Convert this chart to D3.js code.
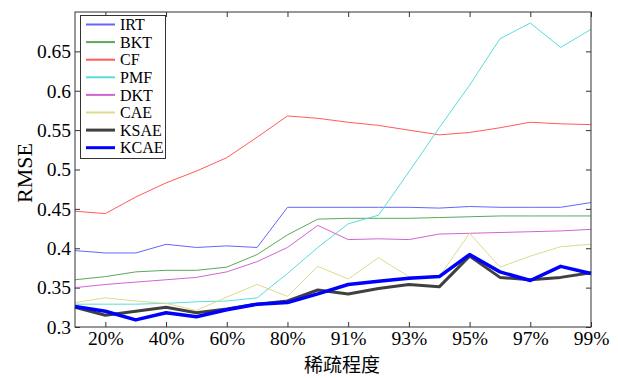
<!DOCTYPE html>
<html>
<head>
<meta charset="utf-8">
<script src="https://cdn.jsdelivr.net/npm/d3@7"></script>
<style>
  body { margin: 0; background: #fff; }
  svg { font-family: "Liberation Serif", "Times New Roman", serif; }
</style>
</head>
<body>
<svg id="chart" width="618" height="378"></svg>
<script>
// x positions 1..18 -> 10%,20%,...,90%,91%,...,99%
const xIndex = d3.range(1, 19);
const xTickPos = [2, 4, 6, 8, 10, 12, 14, 16, 18];
const xTickLabels = ["20%", "40%", "60%", "80%", "91%", "93%", "95%", "97%", "99%"];
const yTicks = [0.3, 0.35, 0.4, 0.45, 0.5, 0.55, 0.6, 0.65];

const names = ["IRT", "BKT", "CF", "PMF", "DKT", "CAE", "KSAE", "KCAE"];
const irt  = [0.397, 0.394, 0.394, 0.405, 0.401, 0.403, 0.401, 0.452, 0.452, 0.452, 0.452, 0.452, 0.451, 0.453, 0.452, 0.452, 0.452, 0.458];
const bkt  = [0.360, 0.364, 0.370, 0.372, 0.372, 0.376, 0.392, 0.417, 0.437, 0.438, 0.438, 0.438, 0.439, 0.440, 0.441, 0.441, 0.441, 0.441];
const cf   = [0.447, 0.444, 0.465, 0.483, 0.498, 0.515, 0.541, 0.568, 0.565, 0.560, 0.556, 0.550, 0.544, 0.547, 0.553, 0.560, 0.558, 0.557];
const pmf  = [0.329, 0.329, 0.329, 0.330, 0.332, 0.333, 0.337, 0.368, 0.401, 0.431, 0.442, 0.497, 0.553, 0.607, 0.666, 0.686, 0.655, 0.678];
const dkt  = [0.350, 0.354, 0.357, 0.360, 0.363, 0.370, 0.383, 0.401, 0.429, 0.411, 0.412, 0.411, 0.418, 0.419, 0.420, 0.421, 0.422, 0.424];
const cae  = [0.331, 0.337, 0.333, 0.330, 0.321, 0.338, 0.354, 0.339, 0.377, 0.361, 0.388, 0.364, 0.364, 0.419, 0.376, 0.390, 0.402, 0.405];
const ksae = [0.325, 0.315, 0.320, 0.325, 0.318, 0.323, 0.329, 0.333, 0.347, 0.342, 0.349, 0.354, 0.351, 0.390, 0.363, 0.360, 0.363, 0.369];
const kcae = [0.326, 0.320, 0.309, 0.318, 0.313, 0.322, 0.329, 0.331, 0.342, 0.354, 0.358, 0.362, 0.364, 0.392, 0.370, 0.359, 0.377, 0.368];

const seriesValues = [irt, bkt, cf, pmf, dkt, cae, ksae, kcae];
const colors = ["#6464ff", "#5aa85a", "#ff5a5a", "#5adcdc", "#d264d2", "#dcdc8c", "#404040", "#0000ff"];
const widths = [1, 1, 1, 1, 1, 1, 3, 3.5];

const svg = d3.select("#chart");
const plotLeft = 75, plotRight = 591, plotTop = 12, plotBottom = 327;

const x = d3.scaleLinear().domain([1, 18]).range([plotLeft, plotRight]);
const y = d3.scaleLinear().domain([0.3, 0.7]).range([plotBottom, plotTop]);

const axisColor = "#333";

// axes (ticks point inward)
const gx = svg.append("g").attr("transform", `translate(0,${plotBottom})`)
  .call(d3.axisBottom(x).tickValues(xTickPos).tickFormat((d, i) => xTickLabels[i])
    .tickSizeInner(-5).tickSizeOuter(0).tickPadding(4));
const gxt = svg.append("g").attr("transform", `translate(0,${plotTop})`)
  .call(d3.axisTop(x).tickValues(xTickPos).tickFormat("").tickSizeInner(-5).tickSizeOuter(0));
const gy = svg.append("g").attr("transform", `translate(${plotLeft},0)`)
  .call(d3.axisLeft(y).tickValues(yTicks).tickFormat(d => String(+d.toFixed(2)))
    .tickSizeInner(-5).tickSizeOuter(0).tickPadding(4));
const gyr = svg.append("g").attr("transform", `translate(${plotRight},0)`)
  .call(d3.axisRight(y).tickValues(yTicks).tickFormat("").tickSizeInner(-5).tickSizeOuter(0));

[gx, gxt, gy, gyr].forEach(g => {
  g.select(".domain").remove();
  g.selectAll(".tick line").attr("stroke", axisColor);
  g.selectAll("text").attr("fill", "#000").style("font-size", "19.5px")
    .style("font-family", "'Liberation Serif', serif");
});

// lines
const line = d3.line().x((d, i) => x(xIndex[i])).y(d => y(d));
seriesValues.forEach((vals, k) => {
  svg.append("path")
    .datum(vals)
    .attr("fill", "none")
    .attr("stroke", colors[k])
    .attr("stroke-width", widths[k])
    .attr("stroke-linejoin", "round")
    .attr("d", line);
});

// plot box
svg.append("rect")
  .attr("x", plotLeft).attr("y", plotTop)
  .attr("width", plotRight - plotLeft).attr("height", plotBottom - plotTop)
  .attr("fill", "none").attr("stroke", axisColor).attr("stroke-width", 1);

// axis titles
svg.append("text")
  .attr("transform", "translate(32,173) rotate(-90)")
  .attr("text-anchor", "middle")
  .style("font-size", "22px")
  .text("RMSE");

svg.append("text")
  .attr("x", 342)
  .attr("y", 372)
  .attr("text-anchor", "middle")
  .style("font-size", "19px")
  .style("font-family", "'Noto Sans CJK SC', sans-serif")
  .text("稀疏程度");

// legend
const lg = svg.append("g");
lg.append("rect")
  .attr("x", 80.5).attr("y", 15.5).attr("width", 85).attr("height", 143)
  .attr("fill", "#fff").attr("stroke", axisColor).attr("stroke-width", 1);
names.forEach((n, k) => {
  const ly = 24.5 + k * 17.6;
  lg.append("line")
    .attr("x1", 86).attr("x2", 115).attr("y1", ly).attr("y2", ly)
    .attr("stroke", colors[k]).attr("stroke-width", k < 6 ? 2 : 3);
  lg.append("text")
    .attr("x", 120).attr("y", ly).attr("dy", "0.35em")
    .style("font-size", "16px")
    .text(n);
});
</script>
</body>
</html>
